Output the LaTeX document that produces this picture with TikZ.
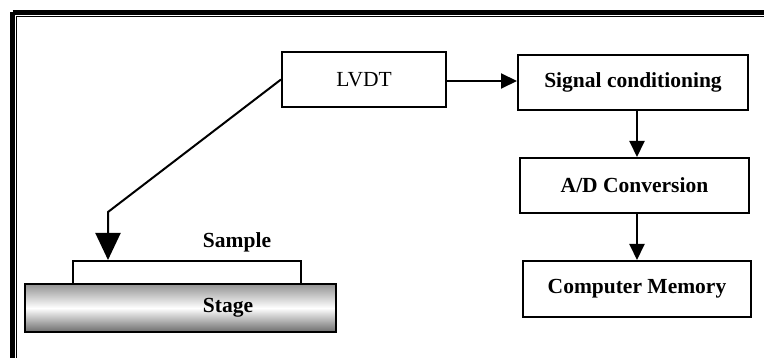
\documentclass[tikz,border=0pt]{standalone}
\usepackage{fontspec}
\setmainfont{Liberation Serif}
\usetikzlibrary{arrows.meta,calc}
\begin{document}
\begin{tikzpicture}[x=1pt,y=-1pt,
  box/.style={draw,line width=2pt,rectangle,inner sep=0pt,font=\fontsize{21.5}{25}\selectfont},
  bbox/.style={box,font=\fontsize{21.5}{25}\selectfont\bfseries},
  lbl/.style={inner sep=0pt,font=\fontsize{21.5}{25}\selectfont\bfseries},
  arr/.style={line width=2pt,-{Triangle[width=15pt,length=16pt]}},
  bigarr/.style={line width=2pt,-{Triangle[width=25pt,length=27pt]}}]
\useasboundingbox (0,0) rectangle (764,358);
% frame
\draw[line width=5pt] (12.5,12.5) -- (820,12.5);
\draw[line width=5pt] (12.5,12.5) -- (12.5,420);
\draw[line width=1.3pt] (16.2,16.2) -- (820,16.2);
\draw[line width=1.3pt] (16.2,16.2) -- (16.2,420);
% boxes
\node[box,minimum width=164pt,minimum height=55pt] (lvdt) at (364,79.5) {LVDT};
\node[bbox,minimum width=230pt,minimum height=55pt] (sig) at (633,82.5) {Signal conditioning};
\node[bbox,minimum width=229pt,minimum height=55pt] (ad) at (634.5,185.5) {A/D Conversion};
\node[bbox,minimum width=228pt,minimum height=56pt] (mem) at (637,289) {Computer Memory};
\node[draw,line width=2pt,minimum width=228pt,minimum height=23pt,inner sep=0pt] (sample) at (187,272.5) {};
\node[draw,line width=2pt,minimum width=311pt,minimum height=48pt,inner sep=0pt,
  shading=axis,top color=gray!85,bottom color=gray!85!black,middle color=white] (stage) at (180.5,308) {};
\node[lbl] (stagelbl) at (228,308) {Stage};
\node[lbl] (samplelbl) at (237,242) {Sample};
% connectors
\draw[arr] (lvdt.east |- 0,81) coordinate (a1) -- (a1 -| sig.west);
\draw[arr] (sig.south -| mem.north) -- (ad.north -| mem.north);
\draw[arr] (ad.south -| mem.north) -- (mem.north);
\coordinate (bend) at (108,212);
\draw[bigarr] (lvdt.west) -- (bend) -- (bend |- sample.north);
\end{tikzpicture}
\end{document}
